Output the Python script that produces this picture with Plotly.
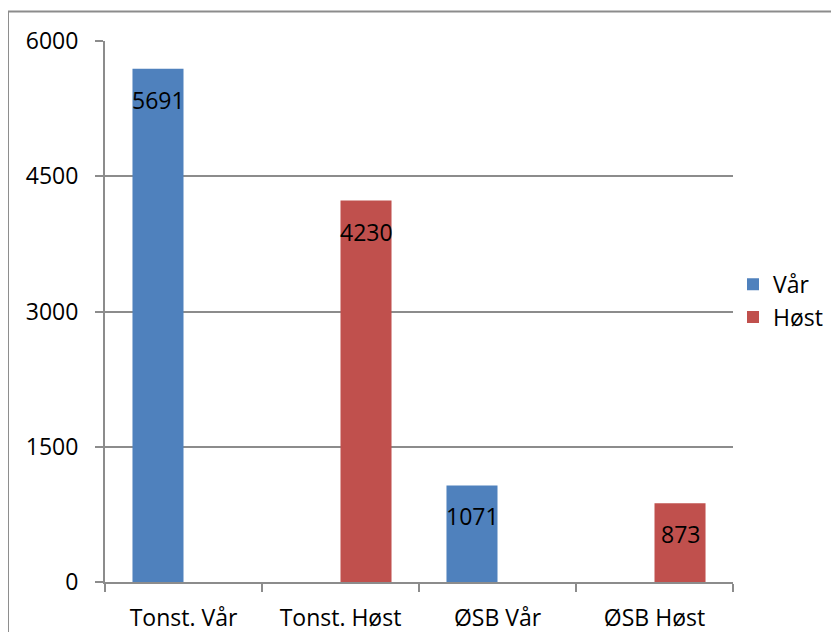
import plotly.graph_objects as go

categories = ["Tonst. Vår", "Tonst. Høst", "ØSB Vår", "ØSB Høst"]
var_values = [5691, None, 1071, None]
host_values = [None, 4230, None, 873]
series_names = ["Vår", "Høst"]
y_ticks = [0, 1500, 3000, 4500, 6000]

FONT = "Open Sans"
FS = 23
GRAY = "#8c8c8c"
colors = ["#4F81BD", "#C0504D"]

fig = go.Figure()
for name, vals, col in zip(series_names, [var_values, host_values], colors):
    fig.add_trace(go.Bar(name=name, x=categories, y=vals, marker=dict(color=col, line=dict(width=0))))

# data labels inside end of each bar
bar_half = 25.5
for vals, shift in [(var_values, -bar_half), (host_values, bar_half)]:
    for c, v in zip(categories, vals):
        if v is None:
            continue
        fig.add_annotation(x=c, y=v, text=str(v), showarrow=False, xshift=shift, yshift=-31,
                           yanchor="middle", font=dict(family=FONT, size=FS, color="black"))

# outer chart frame
fig.add_shape(type="rect", xref="paper", yref="paper", x0=-0.1545, y0=-0.3, x1=1.5, y1=1.0545,
              line=dict(color=GRAY, width=2), fillcolor="rgba(0,0,0,0)", layer="below")

fig.update_layout(
    width=831, height=624,
    margin=dict(l=97, r=106, t=33, b=50, autoexpand=False),
    paper_bgcolor="white", plot_bgcolor="white",
    barmode="group", bargap=0.35, bargroupgap=0,
    font=dict(family=FONT, size=FS, color="black"),
    showlegend=True,
    legend=dict(x=1.0, y=0.52, xanchor="left", yanchor="middle", font=dict(family=FONT, size=FS),
                tracegroupgap=0, itemwidth=30, bgcolor="rgba(0,0,0,0)"),
    xaxis=dict(type="category", showline=True, linecolor=GRAY, linewidth=2, ticks="outside",
               tickson="boundaries", ticklen=8, tickcolor=GRAY, tickwidth=2, showgrid=False,
               tickfont=dict(family=FONT, size=FS), ticklabelstandoff=14, automargin=False),
    yaxis=dict(range=[0, 6000], tickvals=y_ticks, showline=True, linecolor=GRAY, linewidth=2,
               ticks="outside", ticklen=8, tickcolor=GRAY, tickwidth=2, showgrid=True,
               gridcolor=GRAY, gridwidth=2, zeroline=False, tickfont=dict(family=FONT, size=FS),
               ticklabelstandoff=12, automargin=False),
)

fig.write_html("out.html")
